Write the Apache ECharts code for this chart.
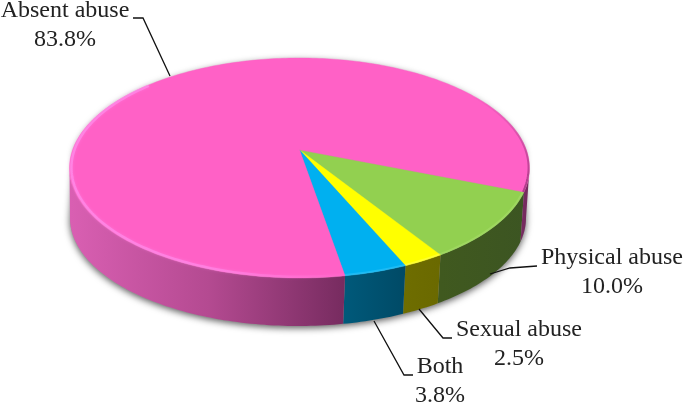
<!DOCTYPE html>
<html>
<head>
<meta charset="utf-8">
<style>html,body{margin:0;padding:0;background:#fff}#c{width:685px;height:405px}</style>
<script src="https://cdn.jsdelivr.net/npm/echarts@6/dist/echarts.min.js"></script>
</head>
<body>
<div id="c"></div>
<script>
const categories = ['Physical abuse', 'Sexual abuse', 'Both', 'Absent abuse'];
const values = [10.0, 2.5, 3.8, 83.8];

const topColors = ['#92d050', '#ffff00', '#00b0f0', '#ff61c6'];
const rimLight = ['#b4e67c', '#ffff80', '#50d0ff', '#ff8ce6'];
const sideStops = [
  [[0, '#40591f'], [1, '#3c5522']],
  [[0, '#6e6d00'], [1, '#6a6900']],
  [[0, '#00597a'], [1, '#004a66']],
  [[0, '#d95fb2'], [0.5, '#b44a91'], [1, '#762b5f']]
];

// leader lines and label anchors, one per category
const leaderPaths = [
  [[537, 266], [510, 268], [490, 274]],
  [[452, 338], [443, 338], [419, 309]],
  [[413, 375], [404, 375], [374, 321]],
  [[133, 18], [143, 18], [170, 76]]
];
const labelAnchors = [[612, 258], [519, 330], [440, 367], [65, 11]];

// tilted disc: top and bottom rims, and perspective shift of the disc centre
const topRim = { cx: 299.5, cy: 168, rx: 230, ry: 110 };
const baseRim = { cx: 298, cy: 218, rx: 228, ry: 108 };
const persp = 0.165;
const startDeg = 21.7;

const total = values.reduce((a, b) => a + b, 0);
const spans = [];
values.reduce((acc, v) => {
  const next = acc + v / total * 360;
  spans.push([acc, next]);
  return next;
}, startDeg);

function project(rim, deg, r) {
  const t = deg * Math.PI / 180;
  const u = r * Math.cos(t), v = r * Math.sin(t);
  const w = 1 - persp * v;
  const up = u * Math.sqrt(1 - persp * persp) / w;
  const vp = (v - persp) / w;
  return [rim.cx + rim.rx * up, rim.cy + rim.ry * vp];
}
function arcPoints(rim, a, b, r) {
  const n = Math.max(2, Math.ceil(Math.abs(b - a)));
  const out = [];
  for (let i = 0; i <= n; i++) out.push(project(rim, a + (b - a) * i / n, r));
  return out;
}
const visDeg = Math.asin(persp) * 180 / Math.PI;
const visible = [[visDeg, 180 - visDeg], [360 + visDeg, 540 - visDeg]];

function sideFill(i) {
  return {
    type: 'linear', global: true,
    x: i === 3 ? 71 : project(topRim, spans[i][1], 1)[0], y: 0,
    x2: i === 3 ? 346 : project(topRim, spans[i][0], 1)[0], y2: 0,
    colorStops: sideStops[i].map(s => ({ offset: s[0], color: s[1] }))
  };
}

function renderShadow() {
  const pts = arcPoints(baseRim, visDeg, 180 - visDeg, 1)
    .concat(arcPoints(topRim, 180, 360, 0.99));
  return {
    type: 'polygon', shape: { points: pts },
    style: { fill: '#999', shadowBlur: 7, shadowColor: 'rgba(0,0,0,0.65)', shadowOffsetX: 0, shadowOffsetY: 2 }
  };
}
function renderSide(params) {
  const i = params.dataIndex;
  const kids = [];
  visible.forEach(w => {
    const a = Math.max(w[0], spans[i][0]), b = Math.min(w[1], spans[i][1]);
    if (b <= a) return;
    const pts = arcPoints(topRim, a, b, 1).concat(arcPoints(baseRim, b, a, 1));
    kids.push({ type: 'polygon', shape: { points: pts }, style: { fill: sideFill(i) } });
  });
  return { type: 'group', children: kids };
}
function renderTop(params) {
  const i = params.dataIndex;
  const s = spans[i];
  const apex = project(topRim, 0, 0);
  const pts = [apex].concat(arcPoints(topRim, s[0], s[1], 1));
  const kids = [{
    type: 'polygon', shape: { points: pts },
    style: { fill: topColors[i], stroke: topColors[i], lineWidth: 0.4 }
  }];
  if (i < 3) {
    kids.push({
      type: 'polyline', shape: { points: arcPoints(topRim, s[0], s[1], 0.995) },
      style: { fill: null, stroke: rimLight[i], lineWidth: 2, opacity: 0.35 }
    });
  } else {
    // bright bevel at lower left, fading toward the front
    kids.push({
      type: 'polyline', shape: { points: arcPoints(topRim, s[0], 222, 0.992) },
      style: {
        fill: null, lineWidth: 2.5, opacity: 0.8, shadowBlur: 3, shadowColor: 'rgba(255,140,235,0.6)',
        stroke: {
          type: 'linear', global: true, x: 70, y: 0, x2: 345, y2: 0,
          colorStops: [
            { offset: 0, color: 'rgba(255,140,235,0.9)' },
            { offset: 0.5, color: 'rgba(255,140,235,0.8)' },
            { offset: 1, color: 'rgba(255,140,235,0.05)' }
          ]
        }
      }
    });
    // soft dark edge toward the right
    kids.push({
      type: 'polyline', shape: { points: arcPoints(topRim, 318, 360 + startDeg, 0.996) },
      style: {
        fill: null, lineWidth: 2,
        stroke: {
          type: 'linear', global: true, x: 0, y: 95, x2: 0, y2: 185,
          colorStops: [
            { offset: 0, color: 'rgba(150,50,120,0)' },
            { offset: 1, color: 'rgba(150,50,120,0.75)' }
          ]
        }
      }
    });
  }
  return { type: 'group', children: kids };
}
function renderLabel(params) {
  const i = params.dataIndex;
  const anchor = labelAnchors[i];
  const textStyle = { fill: '#222', font: '24px "Liberation Serif", "Times New Roman", serif', align: 'center', verticalAlign: 'middle' };
  return {
    type: 'group',
    children: [
      { type: 'polyline', shape: { points: leaderPaths[i] }, style: { fill: null, stroke: '#111', lineWidth: 1.3 } },
      { type: 'text', style: Object.assign({ text: categories[i], x: anchor[0], y: anchor[1] }, textStyle) },
      { type: 'text', style: Object.assign({ text: values[i].toFixed(1) + '%', x: anchor[0], y: anchor[1] + 28.5 }, textStyle) }
    ]
  };
}

const chart = echarts.init(document.getElementById('c'), null, { renderer: 'canvas', width: 685, height: 405 });
const rows = categories.map((n, i) => ({ name: n, value: values[i] }));
const base = { type: 'custom', coordinateSystem: 'none', silent: true, animation: false };
chart.setOption({
  backgroundColor: '#fff',
  animation: false,
  series: [
    Object.assign({}, base, { name: 'shadow', z: 1, data: [total], renderItem: renderShadow }),
    Object.assign({}, base, { name: 'side', z: 2, data: rows, renderItem: renderSide }),
    Object.assign({}, base, { name: 'top', z: 3, data: rows, renderItem: renderTop }),
    Object.assign({}, base, { name: 'labels', z: 4, data: rows, renderItem: renderLabel })
  ]
});
</script>
</body>
</html>
